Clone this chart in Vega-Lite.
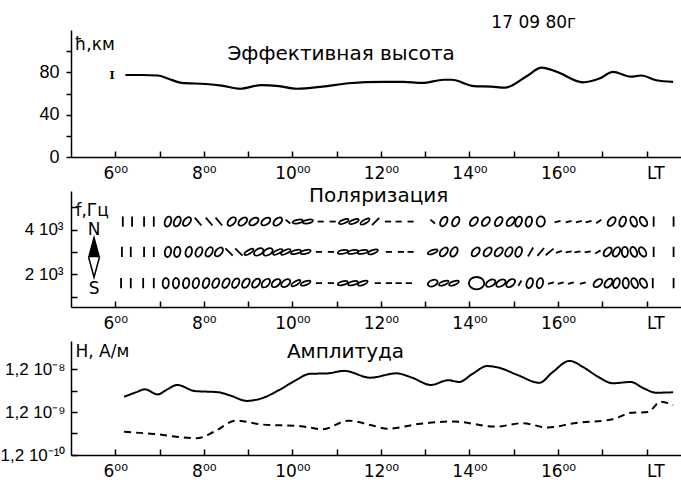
{
  "$schema": "https://vega.github.io/schema/vega-lite/v6.json",
  "padding": {"left": 0, "top": 14, "right": 0, "bottom": 0},
  "bounds": "flush",
  "spacing": 34,
  "background": "white",
  "config": {
    "font": "DejaVu Sans",
    "view": {"stroke": null},
    "axis": {"grid": false, "domainColor": "black", "tickColor": "black", "labelColor": "black", "labelFont": "Liberation Sans", "domainWidth": 1.5, "tickWidth": 1.5, "title": null, "labelFlush": false, "labelOverlap": false},
    "axisX": {"labelFont": "DejaVu Sans"}
  },
  "datasets": {
    "height": [
      {"t": 6.23, "v": 77.5}, {"t": 6.6, "v": 77.5}, {"t": 6.96, "v": 77}, {"t": 7.2, "v": 74}, {"t": 7.5, "v": 70},
      {"t": 8.04, "v": 69}, {"t": 8.4, "v": 67.5}, {"t": 8.82, "v": 64.5}, {"t": 9.3, "v": 68}, {"t": 9.7, "v": 67},
      {"t": 10.1, "v": 64.5}, {"t": 10.68, "v": 66.5}, {"t": 11.27, "v": 69.7}, {"t": 12.05, "v": 71}, {"t": 12.5, "v": 71},
      {"t": 12.93, "v": 70}, {"t": 13.42, "v": 73}, {"t": 13.6, "v": 73}, {"t": 14.1, "v": 67}, {"t": 14.5, "v": 66.5},
      {"t": 14.8, "v": 65.6}, {"t": 15.28, "v": 76}, {"t": 15.63, "v": 84.5}, {"t": 15.97, "v": 80.5}, {"t": 16.56, "v": 70.6},
      {"t": 16.95, "v": 74.4}, {"t": 17.24, "v": 80.5}, {"t": 17.64, "v": 76}, {"t": 17.88, "v": 77}, {"t": 18.22, "v": 72.5},
      {"t": 18.6, "v": 71}
    ],
    "pol": [
      {"f": 4.36, "t": 6.17, "g": "line", "a": 0}, {"f": 4.36, "t": 6.38, "g": "line", "a": 0}, {"f": 4.36, "t": 6.65, "g": "line", "a": 0}, {"f": 4.36, "t": 6.87, "g": "line", "a": 0},
      {"f": 4.36, "t": 7.19, "g": "ell", "a": 20}, {"f": 4.36, "t": 7.4, "g": "ell", "a": 25}, {"f": 4.36, "t": 7.62, "g": "ell", "a": 40},
      {"f": 4.36, "t": 7.87, "g": "line", "a": -40}, {"f": 4.36, "t": 8.12, "g": "line", "a": -40}, {"f": 4.36, "t": 8.34, "g": "line", "a": -40},
      {"f": 4.36, "t": 8.63, "g": "ell", "a": 45}, {"f": 4.36, "t": 8.88, "g": "ell", "a": 50}, {"f": 4.36, "t": 9.13, "g": "ell", "a": 55}, {"f": 4.36, "t": 9.4, "g": "ell", "a": 55}, {"f": 4.36, "t": 9.67, "g": "ell", "a": 50},
      {"f": 4.36, "t": 9.9, "g": "dash", "a": -50}, {"f": 4.36, "t": 10.12, "g": "flat", "a": 80}, {"f": 4.36, "t": 10.35, "g": "flat", "a": 80},
      {"f": 4.36, "t": 10.64, "g": "dash", "a": 90}, {"f": 4.36, "t": 10.91, "g": "dash", "a": 90},
      {"f": 4.36, "t": 11.16, "g": "flat", "a": 70}, {"f": 4.36, "t": 11.39, "g": "flat", "a": 70}, {"f": 4.36, "t": 11.64, "g": "flat", "a": 60},
      {"f": 4.36, "t": 11.88, "g": "line", "a": 45}, {"f": 4.36, "t": 12.16, "g": "dash", "a": 90}, {"f": 4.36, "t": 12.4, "g": "dash", "a": 90}, {"f": 4.36, "t": 12.67, "g": "dash", "a": 90},
      {"f": 4.36, "t": 13.17, "g": "dash", "a": -50}, {"f": 4.36, "t": 13.42, "g": "ell", "a": 30}, {"f": 4.36, "t": 13.69, "g": "ell", "a": 30},
      {"f": 4.36, "t": 14.1, "g": "ell", "a": 40}, {"f": 4.36, "t": 14.37, "g": "ell", "a": 40}, {"f": 4.36, "t": 14.66, "g": "ell", "a": 35}, {"f": 4.36, "t": 14.93, "g": "ell", "a": 40}, {"f": 4.36, "t": 15.11, "g": "ell", "a": 20}, {"f": 4.36, "t": 15.34, "g": "ell", "a": 15}, {"f": 4.36, "t": 15.61, "g": "circ", "a": 10},
      {"f": 4.36, "t": 15.99, "g": "dash", "a": 75}, {"f": 4.36, "t": 16.24, "g": "dash", "a": 75}, {"f": 4.36, "t": 16.47, "g": "dash", "a": 75}, {"f": 4.36, "t": 16.69, "g": "dash", "a": 75}, {"f": 4.36, "t": 16.92, "g": "dash", "a": 55},
      {"f": 4.36, "t": 17.21, "g": "ell", "a": 40}, {"f": 4.36, "t": 17.46, "g": "ell", "a": 20}, {"f": 4.36, "t": 17.71, "g": "ell", "a": -20}, {"f": 4.36, "t": 17.93, "g": "ell", "a": -30},
      {"f": 4.36, "t": 18.16, "g": "line", "a": 0}, {"f": 4.36, "t": 18.61, "g": "line", "a": 0},

      {"f": 3.0, "t": 6.15, "g": "line", "a": 0}, {"f": 3.0, "t": 6.35, "g": "line", "a": 0}, {"f": 3.0, "t": 6.65, "g": "line", "a": 0}, {"f": 3.0, "t": 6.87, "g": "line", "a": 0},
      {"f": 3.0, "t": 7.19, "g": "ell", "a": 10}, {"f": 3.0, "t": 7.4, "g": "ell", "a": 10}, {"f": 3.0, "t": 7.66, "g": "ell", "a": 15}, {"f": 3.0, "t": 7.89, "g": "ell", "a": 25}, {"f": 3.0, "t": 8.12, "g": "ell", "a": 30}, {"f": 3.0, "t": 8.34, "g": "ell", "a": 40},
      {"f": 3.0, "t": 8.57, "g": "line", "a": -45}, {"f": 3.0, "t": 8.79, "g": "line", "a": -45},
      {"f": 3.0, "t": 9.02, "g": "flat", "a": 60}, {"f": 3.0, "t": 9.24, "g": "ell", "a": 60}, {"f": 3.0, "t": 9.45, "g": "ell", "a": 60}, {"f": 3.0, "t": 9.67, "g": "flat", "a": 65}, {"f": 3.0, "t": 9.85, "g": "flat", "a": 65}, {"f": 3.0, "t": 10.08, "g": "flat", "a": 75}, {"f": 3.0, "t": 10.3, "g": "flat", "a": 75},
      {"f": 3.0, "t": 10.6, "g": "dash", "a": 90}, {"f": 3.0, "t": 10.87, "g": "dash", "a": 90},
      {"f": 3.0, "t": 11.14, "g": "flat", "a": 80}, {"f": 3.0, "t": 11.37, "g": "flat", "a": 80}, {"f": 3.0, "t": 11.59, "g": "flat", "a": 80}, {"f": 3.0, "t": 11.82, "g": "flat", "a": 70},
      {"f": 3.0, "t": 12.18, "g": "dash", "a": 90}, {"f": 3.0, "t": 12.45, "g": "dash", "a": 90}, {"f": 3.0, "t": 12.67, "g": "dash", "a": 90},
      {"f": 3.0, "t": 13.17, "g": "flat", "a": 70}, {"f": 3.0, "t": 13.42, "g": "ell", "a": 40}, {"f": 3.0, "t": 13.65, "g": "ell", "a": 30},
      {"f": 3.0, "t": 14.14, "g": "ell", "a": 40}, {"f": 3.0, "t": 14.41, "g": "ell", "a": 40}, {"f": 3.0, "t": 14.66, "g": "ell", "a": 40}, {"f": 3.0, "t": 14.89, "g": "ell", "a": 30}, {"f": 3.0, "t": 15.11, "g": "ell", "a": 20},
      {"f": 3.0, "t": 15.38, "g": "line", "a": 30}, {"f": 3.0, "t": 15.61, "g": "line", "a": 40}, {"f": 3.0, "t": 15.81, "g": "line", "a": 50}, {"f": 3.0, "t": 16.02, "g": "dash", "a": 70}, {"f": 3.0, "t": 16.24, "g": "dash", "a": 80}, {"f": 3.0, "t": 16.44, "g": "dash", "a": 80}, {"f": 3.0, "t": 16.67, "g": "dash", "a": 80}, {"f": 3.0, "t": 16.9, "g": "dash", "a": 60},
      {"f": 3.0, "t": 17.12, "g": "ell", "a": 40}, {"f": 3.0, "t": 17.32, "g": "ell", "a": 30}, {"f": 3.0, "t": 17.51, "g": "ell", "a": 0}, {"f": 3.0, "t": 17.71, "g": "ell", "a": -20}, {"f": 3.0, "t": 17.91, "g": "ell", "a": -30},
      {"f": 3.0, "t": 18.16, "g": "line", "a": 0}, {"f": 3.0, "t": 18.61, "g": "line", "a": 0},

      {"f": 1.6, "t": 6.13, "g": "line", "a": 0}, {"f": 1.6, "t": 6.35, "g": "line", "a": 0}, {"f": 1.6, "t": 6.63, "g": "line", "a": 0}, {"f": 1.6, "t": 6.87, "g": "line", "a": 0},
      {"f": 1.6, "t": 7.14, "g": "ell", "a": 5}, {"f": 1.6, "t": 7.37, "g": "ell", "a": 5}, {"f": 1.6, "t": 7.6, "g": "ell", "a": 10}, {"f": 1.6, "t": 7.82, "g": "ell", "a": 15}, {"f": 1.6, "t": 8.05, "g": "ell", "a": 20}, {"f": 1.6, "t": 8.27, "g": "ell", "a": 25}, {"f": 1.6, "t": 8.5, "g": "ell", "a": 30}, {"f": 1.6, "t": 8.72, "g": "ell", "a": 30}, {"f": 1.6, "t": 8.95, "g": "ell", "a": 35}, {"f": 1.6, "t": 9.18, "g": "ell", "a": 40}, {"f": 1.6, "t": 9.4, "g": "ell", "a": 45}, {"f": 1.6, "t": 9.63, "g": "ell", "a": 50}, {"f": 1.6, "t": 9.85, "g": "ell", "a": 55},
      {"f": 1.6, "t": 10.08, "g": "flat", "a": 60}, {"f": 1.6, "t": 10.3, "g": "flat", "a": 70},
      {"f": 1.6, "t": 10.6, "g": "dash", "a": 90}, {"f": 1.6, "t": 10.87, "g": "dash", "a": 90},
      {"f": 1.6, "t": 11.14, "g": "flat", "a": 75}, {"f": 1.6, "t": 11.37, "g": "flat", "a": 75}, {"f": 1.6, "t": 11.59, "g": "flat", "a": 70},
      {"f": 1.6, "t": 11.93, "g": "dash", "a": 90}, {"f": 1.6, "t": 12.18, "g": "dash", "a": 90}, {"f": 1.6, "t": 12.4, "g": "dash", "a": 90}, {"f": 1.6, "t": 12.63, "g": "dash", "a": 90},
      {"f": 1.6, "t": 13.17, "g": "ell", "a": 70}, {"f": 1.6, "t": 13.42, "g": "flat", "a": 70}, {"f": 1.6, "t": 13.65, "g": "flat", "a": 70},
      {"f": 1.6, "t": 14.16, "g": "big", "a": 0}, {"f": 1.6, "t": 14.48, "g": "ell", "a": 60}, {"f": 1.6, "t": 14.71, "g": "ell", "a": 60}, {"f": 1.6, "t": 14.93, "g": "ell", "a": 50},
      {"f": 1.6, "t": 15.14, "g": "dash", "a": 30}, {"f": 1.6, "t": 15.36, "g": "ell", "a": 20}, {"f": 1.6, "t": 15.59, "g": "ell", "a": 15},
      {"f": 1.6, "t": 15.84, "g": "dash", "a": 75}, {"f": 1.6, "t": 16.06, "g": "dash", "a": 75}, {"f": 1.6, "t": 16.29, "g": "dash", "a": 75}, {"f": 1.6, "t": 16.56, "g": "dash", "a": 75},
      {"f": 1.6, "t": 16.9, "g": "ell", "a": 50}, {"f": 1.6, "t": 17.14, "g": "ell", "a": 40}, {"f": 1.6, "t": 17.32, "g": "ell", "a": 20}, {"f": 1.6, "t": 17.53, "g": "ell", "a": 0}, {"f": 1.6, "t": 17.73, "g": "ell", "a": -20}, {"f": 1.6, "t": 17.93, "g": "ell", "a": -30},
      {"f": 1.6, "t": 18.14, "g": "line", "a": 0}, {"f": 1.6, "t": 18.61, "g": "line", "a": 0}
    ],
    "amp": [
      {"s": "H", "t": 6.2, "v": 2.72e-9}, {"s": "H", "t": 6.45, "v": 3.4e-9}, {"s": "H", "t": 6.67, "v": 4.05e-9}, {"s": "H", "t": 6.96, "v": 3.08e-9},
      {"s": "H", "t": 7.15, "v": 3.9e-9}, {"s": "H", "t": 7.4, "v": 5.12e-9}, {"s": "H", "t": 7.79, "v": 3.71e-9}, {"s": "H", "t": 8.33, "v": 3.46e-9},
      {"s": "H", "t": 8.6, "v": 2.9e-9}, {"s": "H", "t": 8.97, "v": 2.18e-9}, {"s": "H", "t": 9.31, "v": 2.51e-9}, {"s": "H", "t": 9.7, "v": 3.9e-9},
      {"s": "H", "t": 10.09, "v": 6.7e-9}, {"s": "H", "t": 10.39, "v": 9.3e-9}, {"s": "H", "t": 10.78, "v": 9.5e-9}, {"s": "H", "t": 11.17, "v": 1.09e-8},
      {"s": "H", "t": 11.76, "v": 7.57e-9}, {"s": "H", "t": 12.35, "v": 9.53e-9}, {"s": "H", "t": 12.7, "v": 7.6e-9}, {"s": "H", "t": 13.13, "v": 5.12e-9},
      {"s": "H", "t": 13.52, "v": 6.6e-9}, {"s": "H", "t": 13.77, "v": 6.01e-9}, {"s": "H", "t": 14.05, "v": 9.0e-9}, {"s": "H", "t": 14.4, "v": 1.41e-8},
      {"s": "H", "t": 14.65, "v": 1.3e-8}, {"s": "H", "t": 15.09, "v": 8.7e-9}, {"s": "H", "t": 15.58, "v": 5.74e-9}, {"s": "H", "t": 15.87, "v": 1.0e-8},
      {"s": "H", "t": 16.26, "v": 1.86e-8}, {"s": "H", "t": 16.56, "v": 1.35e-8}, {"s": "H", "t": 16.9, "v": 8.0e-9}, {"s": "H", "t": 17.24, "v": 5.61e-9},
      {"s": "H", "t": 17.64, "v": 6.01e-9}, {"s": "H", "t": 17.93, "v": 4.3e-9}, {"s": "H", "t": 18.22, "v": 3.38e-9}, {"s": "H", "t": 18.6, "v": 3.46e-9},
      {"s": "D", "t": 6.2, "v": 4.16e-10}, {"s": "D", "t": 6.86, "v": 3.71e-10}, {"s": "D", "t": 7.84, "v": 2.94e-10}, {"s": "D", "t": 8.23, "v": 4.16e-10},
      {"s": "D", "t": 8.72, "v": 7.57e-10}, {"s": "D", "t": 9.31, "v": 6.15e-10}, {"s": "D", "t": 10.19, "v": 5.61e-10}, {"s": "D", "t": 10.68, "v": 4.78e-10},
      {"s": "D", "t": 11.27, "v": 7.57e-10}, {"s": "D", "t": 11.76, "v": 6.01e-10}, {"s": "D", "t": 12.15, "v": 4.89e-10}, {"s": "D", "t": 12.84, "v": 6.3e-10},
      {"s": "D", "t": 13.62, "v": 7.23e-10}, {"s": "D", "t": 14.6, "v": 5.49e-10}, {"s": "D", "t": 15.19, "v": 6.6e-10}, {"s": "D", "t": 15.77, "v": 5.24e-10},
      {"s": "D", "t": 16.36, "v": 6.6e-10}, {"s": "D", "t": 17.24, "v": 8.11e-10}, {"s": "D", "t": 17.64, "v": 1.15e-9}, {"s": "D", "t": 18.03, "v": 1.2e-9},
      {"s": "D", "t": 18.32, "v": 2.09e-9}, {"s": "D", "t": 18.6, "v": 1.74e-9}
    ]
  },
  "vconcat": [
    {
      "width": 611,
      "height": 127,
      "encoding": {
        "x": {"field": "t", "type": "quantitative", "scale": {"domain": [5, 18.8], "nice": false, "zero": false},
          "axis": {"values": [6,7,8,9,10,11,12,13,14,15,16,17,18], "labelExpr": "datum.value == 18 ? 'LT' : (datum.value % 2 == 0 ? datum.value + '\u2070\u2070' : '')", "labelAlign": {"condition": {"test": "datum.value == 18", "value": "left"}, "value": "center"}, "tickSize": -6, "labelPadding": 14, "labelFontSize": 17}},
        "y": {"field": "v", "type": "quantitative", "scale": {"domain": [0, 120], "nice": false},
          "axis": {"values": [0, 20, 40, 60, 80, 100], "labelExpr": "datum.value == 0 || datum.value == 40 || datum.value == 80 ? datum.label : ''", "tickSize": 5, "labelPadding": 7, "labelFontSize": 18}}
      },
      "layer": [
        {"data": {"name": "height"}, "mark": {"type": "line", "color": "black", "strokeWidth": 2.2, "interpolate": "monotone"}},
        {"data": {"values": [{"t": 5.93, "v": 77, "txt": "I"}]}, "mark": {"type": "text", "font": "DejaVu Serif", "fontSize": 11, "fontWeight": "bold", "color": "black"}, "encoding": {"text": {"field": "txt"}}},
        {"data": {"values": [{"t": 11.1, "v": 97, "txt": "Эффективная  высота"}]}, "mark": {"type": "text", "fontSize": 20, "color": "black"}, "encoding": {"text": {"field": "txt"}}},
        {"data": {"values": [{"t": 15.45, "v": 126.5, "txt": "17 09 80г"}]}, "mark": {"type": "text", "fontSize": 17, "color": "black"}, "encoding": {"text": {"field": "txt"}}},
        {"data": {"values": [{"t": 5.08, "v": 106, "txt": "ħ,км"}]}, "mark": {"type": "text", "fontSize": 17, "align": "left", "color": "black"}, "encoding": {"text": {"field": "txt"}}}
      ]
    },
    {
      "width": 611,
      "height": 116,
      "encoding": {
        "x": {"field": "t", "type": "quantitative", "scale": {"domain": [5, 18.8], "nice": false, "zero": false},
          "axis": {"values": [6,7,8,9,10,11,12,13,14,15,16,17,18], "labelExpr": "datum.value == 18 ? 'LT' : (datum.value % 2 == 0 ? datum.value + '\u2070\u2070' : '')", "labelAlign": {"condition": {"test": "datum.value == 18", "value": "left"}, "value": "center"}, "tickSize": -6, "labelPadding": 14, "labelFontSize": 17}},
        "y": {"field": "f", "type": "quantitative", "scale": {"domain": [0.53, 5.73], "nice": false, "zero": false},
          "axis": {"values": [1, 2, 3, 4, 5], "labelExpr": "datum.value == 4 ? '4 10\u00b3' : (datum.value == 2 ? '2 10\u00b3' : '')", "tickSize": -6, "labelPadding": 14, "labelFontSize": 17}}
      },
      "layer": [
        {"data": {"name": "pol"}, "mark": {"type": "point", "filled": false, "color": "black", "strokeWidth": 1.8, "opacity": 1, "size": 105},
          "encoding": {
            "shape": {"field": "g", "type": "nominal", "legend": null, "scale": {"domain": ["line", "dash", "ell", "flat", "circ", "big"], "range": ["M0,-1L0,1", "M0,-0.6L0,0.6", "M0,-1A0.6,1,0,1,1,0,1A0.6,1,0,1,1,0,-1Z", "M0,-1A0.35,1,0,1,1,0,1A0.35,1,0,1,1,0,-1Z", "M0,-1A0.8,1,0,1,1,0,1A0.8,1,0,1,1,0,-1Z", "M0,-1.2A1.5,1.2,0,1,1,0,1.2A1.5,1.2,0,1,1,0,-1.2Z"]}},
            "angle": {"field": "a", "type": "quantitative", "scale": null}
          }},
        {"data": {"values": [{"t": 5.52, "f": 2.76}]},
          "mark": {"type": "point", "filled": true, "fill": "black", "stroke": "black", "strokeWidth": 1.3, "opacity": 1, "size": 1600, "shape": "M0,-1L0.27,0L-0.27,0Z"}},
        {"data": {"values": [{"t": 5.52, "f": 2.76}]},
          "mark": {"type": "point", "filled": false, "fill": "white", "stroke": "black", "strokeWidth": 1.5, "opacity": 1, "size": 1600, "shape": "M-0.27,0L0,1L0.27,0"}},
        {"data": {"values": [{"t": 11.95, "f": 5.5, "txt": "Поляризация"}]}, "mark": {"type": "text", "fontSize": 20, "color": "black"}, "encoding": {"text": {"field": "txt"}}},
        {"data": {"values": [{"t": 5.1, "f": 4.85, "txt": "f,Гц"}]}, "mark": {"type": "text", "fontSize": 17, "align": "left", "color": "black"}, "encoding": {"text": {"field": "txt"}}},
        {"data": {"values": [{"t": 5.52, "f": 4.0, "txt": "N"}, {"t": 5.52, "f": 1.33, "txt": "S"}]}, "mark": {"type": "text", "fontSize": 17, "color": "black"}, "encoding": {"text": {"field": "txt"}}}
      ]
    },
    {
      "width": 611,
      "height": 114,
      "encoding": {
        "x": {"field": "t", "type": "quantitative", "scale": {"domain": [5, 18.8], "nice": false, "zero": false},
          "axis": {"values": [6,7,8,9,10,11,12,13,14,15,16,17,18], "labelExpr": "datum.value == 18 ? 'LT' : (datum.value % 2 == 0 ? datum.value + '\u2070\u2070' : '')", "labelAlign": {"condition": {"test": "datum.value == 18", "value": "left"}, "value": "center"}, "tickSize": -6, "labelPadding": 14, "labelFontSize": 17}},
        "y": {"field": "v", "type": "quantitative", "scale": {"type": "log", "domain": [1.2e-10, 5.4e-8], "nice": false},
          "axis": {"values": [1.2e-10, 3.8e-10, 1.2e-9, 3.8e-9, 1.2e-8], "labelExpr": "datum.value > 1e-8 ? '1,2 10\u207b\u2078' : (datum.value > 1e-9 && datum.value < 2e-9 ? '1,2 10\u207b\u2079' : (datum.value < 2e-10 ? '1,2 10\u207b\u00b9\u2070' : ''))", "tickSize": -6, "labelPadding": 12, "labelFontSize": 17}}
      },
      "layer": [
        {"data": {"name": "amp"}, "mark": {"type": "line", "color": "black", "strokeWidth": 2, "interpolate": "monotone"},
          "encoding": {"strokeDash": {"field": "s", "type": "nominal", "legend": null, "scale": {"domain": ["H", "D"], "range": [[1, 0], [7, 5]]}}}},
        {"data": {"values": [{"t": 11.2, "v": 3.0e-8, "txt": "Амплитуда"}]}, "mark": {"type": "text", "fontSize": 20, "color": "black"}, "encoding": {"text": {"field": "txt"}}},
        {"data": {"values": [{"t": 5.1, "v": 3.0e-8, "txt": "H, А/м"}]}, "mark": {"type": "text", "fontSize": 17, "align": "left", "color": "black"}, "encoding": {"text": {"field": "txt"}}}
      ]
    }
  ]
}
